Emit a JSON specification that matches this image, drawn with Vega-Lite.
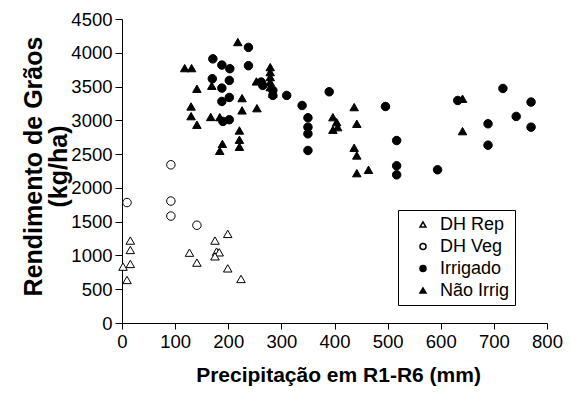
{
  "$schema": "https://vega.github.io/schema/vega-lite/v6.json",
  "width": 425,
  "height": 304,
  "autosize": {"type": "none"},
  "padding": {"left": 122, "top": 19, "right": 24, "bottom": 71},
  "background": "white",
  "data": {"values": [
    {"precip": 15.7, "rend": 1220, "grupo": "DH Rep"},
    {"precip": 15.7, "rend": 1081, "grupo": "DH Rep"},
    {"precip": 1.9, "rend": 834, "grupo": "DH Rep"},
    {"precip": 15.7, "rend": 874, "grupo": "DH Rep"},
    {"precip": 9.4, "rend": 637, "grupo": "DH Rep"},
    {"precip": 127, "rend": 1041, "grupo": "DH Rep"},
    {"precip": 141, "rend": 894, "grupo": "DH Rep"},
    {"precip": 175, "rend": 1220, "grupo": "DH Rep"},
    {"precip": 199, "rend": 1319, "grupo": "DH Rep"},
    {"precip": 178, "rend": 1057, "grupo": "DH Rep"},
    {"precip": 183, "rend": 1046, "grupo": "DH Rep"},
    {"precip": 175, "rend": 987, "grupo": "DH Rep"},
    {"precip": 199, "rend": 809, "grupo": "DH Rep"},
    {"precip": 224, "rend": 652, "grupo": "DH Rep"},
    {"precip": 9.4, "rend": 1783, "grupo": "DH Veg"},
    {"precip": 92, "rend": 2342, "grupo": "DH Veg"},
    {"precip": 92, "rend": 1805, "grupo": "DH Veg"},
    {"precip": 92, "rend": 1583, "grupo": "DH Veg"},
    {"precip": 141, "rend": 1447, "grupo": "DH Veg"},
    {"precip": 171, "rend": 3910, "grupo": "Irrigado"},
    {"precip": 188, "rend": 3818, "grupo": "Irrigado"},
    {"precip": 203, "rend": 3764, "grupo": "Irrigado"},
    {"precip": 170, "rend": 3616, "grupo": "Irrigado"},
    {"precip": 202, "rend": 3591, "grupo": "Irrigado"},
    {"precip": 188, "rend": 3477, "grupo": "Irrigado"},
    {"precip": 202, "rend": 3339, "grupo": "Irrigado"},
    {"precip": 188, "rend": 3280, "grupo": "Irrigado"},
    {"precip": 202, "rend": 3009, "grupo": "Irrigado"},
    {"precip": 190, "rend": 2984, "grupo": "Irrigado"},
    {"precip": 238, "rend": 4080, "grupo": "Irrigado"},
    {"precip": 238, "rend": 3809, "grupo": "Irrigado"},
    {"precip": 262, "rend": 3566, "grupo": "Irrigado"},
    {"precip": 265, "rend": 3517, "grupo": "Irrigado"},
    {"precip": 284, "rend": 3443, "grupo": "Irrigado"},
    {"precip": 284, "rend": 3369, "grupo": "Irrigado"},
    {"precip": 310, "rend": 3369, "grupo": "Irrigado"},
    {"precip": 339, "rend": 3220, "grupo": "Irrigado"},
    {"precip": 390, "rend": 3423, "grupo": "Irrigado"},
    {"precip": 350, "rend": 3038, "grupo": "Irrigado"},
    {"precip": 350, "rend": 2899, "grupo": "Irrigado"},
    {"precip": 350, "rend": 2801, "grupo": "Irrigado"},
    {"precip": 350, "rend": 2554, "grupo": "Irrigado"},
    {"precip": 496, "rend": 3205, "grupo": "Irrigado"},
    {"precip": 517, "rend": 2701, "grupo": "Irrigado"},
    {"precip": 517, "rend": 2327, "grupo": "Irrigado"},
    {"precip": 517, "rend": 2193, "grupo": "Irrigado"},
    {"precip": 594, "rend": 2268, "grupo": "Irrigado"},
    {"precip": 632, "rend": 3294, "grupo": "Irrigado"},
    {"precip": 689, "rend": 2949, "grupo": "Irrigado"},
    {"precip": 689, "rend": 2632, "grupo": "Irrigado"},
    {"precip": 717, "rend": 3472, "grupo": "Irrigado"},
    {"precip": 742, "rend": 3058, "grupo": "Irrigado"},
    {"precip": 770, "rend": 3270, "grupo": "Irrigado"},
    {"precip": 770, "rend": 2899, "grupo": "Irrigado"},
    {"precip": 118, "rend": 3773, "grupo": "Não Irrig"},
    {"precip": 131, "rend": 3773, "grupo": "Não Irrig"},
    {"precip": 141, "rend": 3468, "grupo": "Não Irrig"},
    {"precip": 130, "rend": 3205, "grupo": "Não Irrig"},
    {"precip": 130, "rend": 3062, "grupo": "Não Irrig"},
    {"precip": 141, "rend": 2935, "grupo": "Não Irrig"},
    {"precip": 167, "rend": 3050, "grupo": "Não Irrig"},
    {"precip": 184, "rend": 3047, "grupo": "Não Irrig"},
    {"precip": 189, "rend": 2652, "grupo": "Não Irrig"},
    {"precip": 184, "rend": 2549, "grupo": "Não Irrig"},
    {"precip": 218, "rend": 4159, "grupo": "Não Irrig"},
    {"precip": 169, "rend": 3512, "grupo": "Não Irrig"},
    {"precip": 226, "rend": 3329, "grupo": "Não Irrig"},
    {"precip": 226, "rend": 3147, "grupo": "Não Irrig"},
    {"precip": 221, "rend": 2850, "grupo": "Não Irrig"},
    {"precip": 221, "rend": 2712, "grupo": "Não Irrig"},
    {"precip": 221, "rend": 2609, "grupo": "Não Irrig"},
    {"precip": 254, "rend": 3180, "grupo": "Não Irrig"},
    {"precip": 253, "rend": 3576, "grupo": "Não Irrig"},
    {"precip": 279, "rend": 3788, "grupo": "Não Irrig"},
    {"precip": 279, "rend": 3714, "grupo": "Não Irrig"},
    {"precip": 279, "rend": 3640, "grupo": "Não Irrig"},
    {"precip": 279, "rend": 3566, "grupo": "Não Irrig"},
    {"precip": 279, "rend": 3492, "grupo": "Não Irrig"},
    {"precip": 284, "rend": 3394, "grupo": "Não Irrig"},
    {"precip": 397, "rend": 3047, "grupo": "Não Irrig"},
    {"precip": 404, "rend": 2973, "grupo": "Não Irrig"},
    {"precip": 397, "rend": 2861, "grupo": "Não Irrig"},
    {"precip": 406, "rend": 2899, "grupo": "Não Irrig"},
    {"precip": 437, "rend": 3196, "grupo": "Não Irrig"},
    {"precip": 442, "rend": 2949, "grupo": "Não Irrig"},
    {"precip": 437, "rend": 2594, "grupo": "Não Irrig"},
    {"precip": 442, "rend": 2480, "grupo": "Não Irrig"},
    {"precip": 442, "rend": 2218, "grupo": "Não Irrig"},
    {"precip": 464, "rend": 2268, "grupo": "Não Irrig"},
    {"precip": 641, "rend": 3320, "grupo": "Não Irrig"},
    {"precip": 641, "rend": 2840, "grupo": "Não Irrig"}
  ]},
  "mark": {"type": "point", "filled": true, "stroke": "black", "strokeWidth": 1, "size": 72, "opacity": 1},
  "encoding": {
    "x": {
      "field": "precip", "type": "quantitative",
      "scale": {"domain": [0, 800], "nice": false, "zero": false},
      "axis": {
        "values": [0, 100, 200, 300, 400, 500, 600, 700, 800],
        "format": "d",
        "title": "Precipitação em R1-R6 (mm)",
        "labelFlush": false, "labelOverlap": false,
        "labelPadding": 3, "titleFontSize": 21, "tickSize": 6,
        "titleBaseline": "alphabetic", "titleY": 58, "titleX": 216
      }
    },
    "y": {
      "field": "rend", "type": "quantitative",
      "scale": {"domain": [0, 4500], "nice": false, "zero": false},
      "axis": {
        "values": [0, 500, 1000, 1500, 2000, 2500, 3000, 3500, 4000, 4500],
        "format": "d",
        "title": ["Rendimento de Grãos", "(kg/ha)"],
        "labelFlush": false, "labelOverlap": false,
        "labelPadding": 3, "tickSize": 7,
        "titleFontSize": 25,
        "titleAngle": -90, "titleBaseline": "middle", "titleAlign": "center",
        "titleX": -89, "titleY": 147, "titleLineHeight": 25
      }
    },
    "shape": {
      "field": "grupo", "type": "nominal",
      "scale": {"domain": ["DH Rep", "DH Veg", "Irrigado", "Não Irrig"], "range": ["triangle-up", "circle", "circle", "triangle-up"]},
      "legend": {
        "title": null, "orient": "none", "legendX": 276, "legendY": 191,
        "strokeColor": "black", "padding": 5.5, "symbolSize": 36,
        "labelFontSize": 18, "rowPadding": 4, "labelOffset": 8, "symbolOffset": 10.5,
        "labelExpr": "datum.label + '    '",
        "labelColor": "black", "fillColor": "white",
        "encode": {"symbols": {"update": {"stroke": {"value": "black"}, "strokeWidth": {"value": 1}, "opacity": {"value": 1}}}}
      }
    },
    "fill": {
      "field": "grupo", "type": "nominal",
      "scale": {"domain": ["DH Rep", "DH Veg", "Irrigado", "Não Irrig"], "range": ["white", "white", "black", "black"]},
      "legend": {
        "title": null, "orient": "none", "legendX": 276, "legendY": 191,
        "strokeColor": "black", "padding": 5.5, "symbolSize": 36,
        "labelFontSize": 18, "rowPadding": 4, "labelOffset": 8, "symbolOffset": 10.5,
        "labelExpr": "datum.label + '    '",
        "labelColor": "black", "fillColor": "white",
        "encode": {"symbols": {"update": {"stroke": {"value": "black"}, "strokeWidth": {"value": 1}, "opacity": {"value": 1}}}}
      }
    }
  },
  "config": {
    "font": "Liberation Sans",
    "view": {"stroke": null},
    "axis": {
      "grid": false, "domainColor": "black", "tickColor": "black",
      "labelColor": "black", "titleColor": "black",
      "labelFontSize": 18.5, "titleFontSize": 20, "titleFontWeight": "bold",
      "tickSize": 5, "domainWidth": 1, "tickWidth": 1
    }
  }
}
